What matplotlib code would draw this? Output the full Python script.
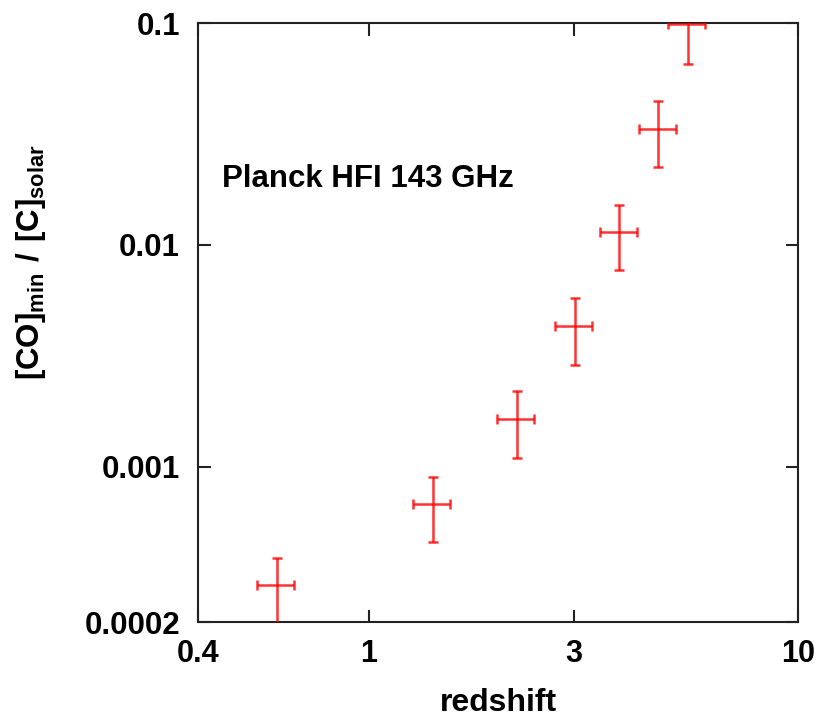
import matplotlib
matplotlib.use('Agg')
import matplotlib.pyplot as plt
from matplotlib.ticker import FixedLocator, FixedFormatter, NullLocator

# CO lines redshifted into the 143 GHz band
redshift = [0.61, 1.41, 2.21, 3.02, 3.83, 4.73, 5.53]
redshift_err = [0.06, 0.14, 0.22, 0.30, 0.38, 0.47, 0.55]
co_min = [2.93e-4, 6.78e-4, 1.65e-3, 4.31e-3, 1.14e-2, 3.34e-2, 0.0995]
co_err = [0.97e-4, 2.2e-4, 5.5e-4, 1.43e-3, 3.7e-3, 1.1e-2, 0.034]

xticks = [0.4, 1, 3, 10]
xticklabels = ['0.4', '1', '3', '10']
yticks = [0.0002, 0.001, 0.01, 0.1]
yticklabels = ['0.0002', '0.001', '0.01', '0.1']

plt.rcParams['font.family'] = ['Liberation Sans', 'DejaVu Sans']
plt.rcParams['font.weight'] = 'bold'
plt.rcParams['mathtext.fontset'] = 'custom'
plt.rcParams['mathtext.default'] = 'bf'
plt.rcParams['mathtext.bf'] = 'Liberation Sans:bold'
plt.rcParams['mathtext.rm'] = 'Liberation Sans:bold'

fig = plt.figure(figsize=(8.26, 7.22), dpi=100)
ax = fig.add_axes([0.2397, 0.1385, 0.7264, 0.8296])

ax.errorbar(redshift, co_min, xerr=redshift_err, yerr=co_err, fmt='none',
            ecolor='#ff0000', elinewidth=1.8, capsize=3.6, capthick=1.8,
            alpha=0.8, zorder=3)

ax.set_xscale('log')
ax.set_yscale('log')
ax.set_xlim(0.4, 10)
ax.set_ylim(0.0002, 0.1)

ax.xaxis.set_major_locator(FixedLocator(xticks))
ax.xaxis.set_major_formatter(FixedFormatter(xticklabels))
ax.yaxis.set_major_locator(FixedLocator(yticks))
ax.yaxis.set_major_formatter(FixedFormatter(yticklabels))
ax.xaxis.set_minor_locator(NullLocator())
ax.yaxis.set_minor_locator(NullLocator())

ax.tick_params(direction='in', length=9, width=1.5, top=True, right=True,
               colors='#222222', labelcolor='black')
ax.tick_params(axis='x', pad=12, labelsize=22)
ax.tick_params(axis='y', pad=13, labelsize=22.5)

for s in ax.spines.values():
    s.set_linewidth(1.5)
    s.set_color('#222222')

ax.set_xlabel('redshift', fontsize=23, weight='bold')
ax.xaxis.set_label_coords(0.5, -0.11)
ax.set_ylabel(r'$[CO]_{min}\ /\ [C]_{solar}$', fontsize=22.5)
ax.yaxis.set_label_coords(-0.25, 0.6)

ax.text(0.04, 0.74, 'Planck HFI 143 GHz', transform=ax.transAxes,
        fontsize=22.5, weight='bold', va='center', ha='left')

fig.savefig('out.png', dpi=100)
